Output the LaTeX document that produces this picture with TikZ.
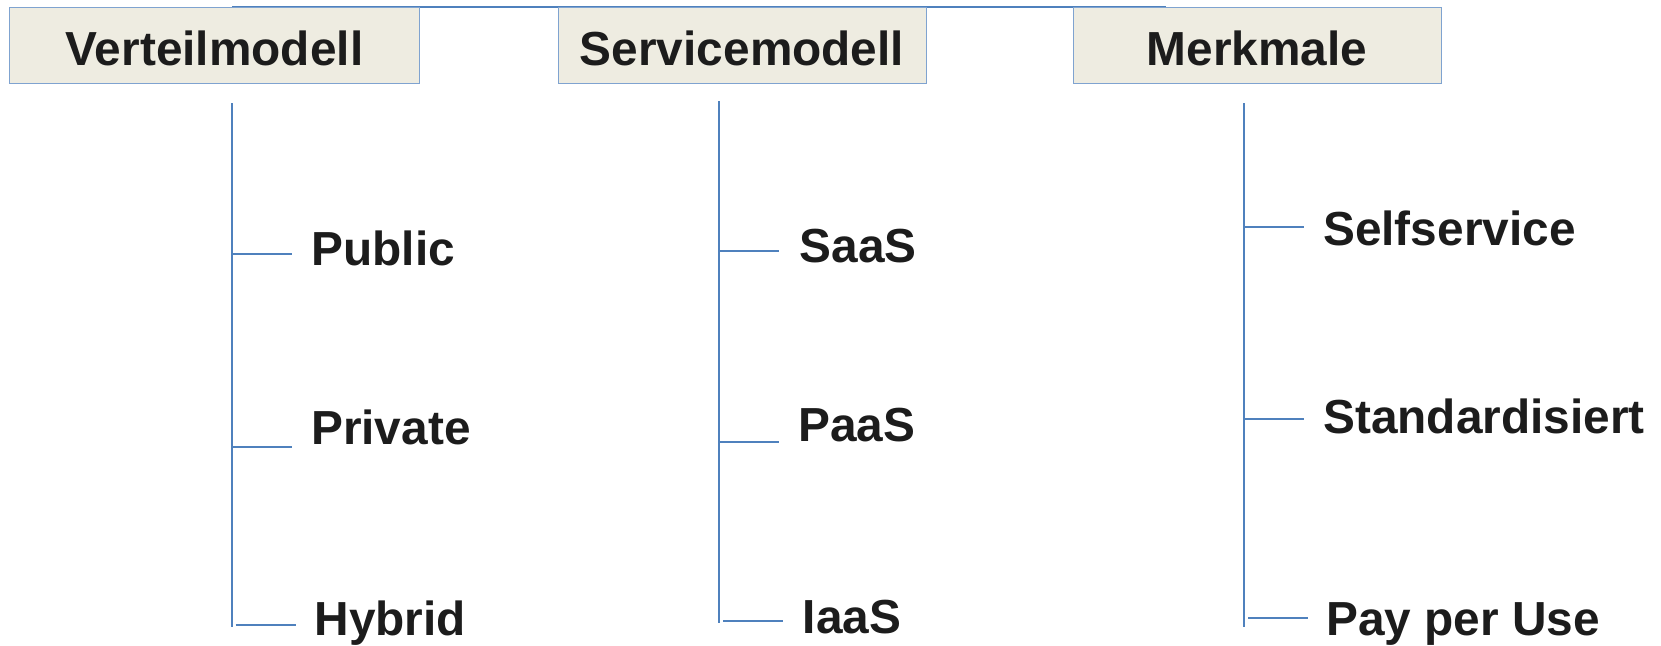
\documentclass[tikz,border=0pt]{standalone}
\usepackage{fontspec}
\setmainfont{Liberation Sans}
\definecolor{lineblue}{HTML}{4F81BD}
\definecolor{boxborder}{HTML}{7FA3D0}
\definecolor{boxfill}{HTML}{EEECE1}
\definecolor{txt}{HTML}{1C1C1C}
\begin{document}
\begin{tikzpicture}[x=1pt,y=-1pt,
  hdr/.style={draw=boxborder, line width=1pt, fill=boxfill, inner sep=0pt,
    minimum height=76.5pt, text height=41pt, text depth=0pt, text=txt,
    font=\fontsize{47.8}{57}\selectfont\bfseries},
  lbl/.style={anchor=base west, inner sep=0pt, text=txt,
    font=\fontsize{47.8}{57}\selectfont\bfseries},
  conn/.style={draw=lineblue, line width=2pt}]
\useasboundingbox (0,0) rectangle (1661,645);

% top line
\coordinate (topL) at (232,6.5);
\coordinate (topR) at (1166,6.5);
\draw[conn] (topL) -- (topR);

% header boxes
\node[hdr, minimum width=410pt] (h1) at (214.5,45.25) {Verteilmodell};
\node[hdr, minimum width=368pt] (h2) at (742,45.25) {Servicemodell};
\node[hdr, minimum width=368pt] (h3) at (1257,45.25) {Merkmale};

% column 1
\coordinate (s1t) at (231.5,103);
\coordinate (s1b) at (231.5,627);
\coordinate (s1a) at (231.5,254);
\coordinate (s1c) at (231.5,446.5);
\coordinate (e1a) at (291.5,254);
\coordinate (e1c) at (291.5,446.5);
\coordinate (b1e) at (235.5,625);
\coordinate (e1e) at (295.5,625);
\draw[conn] (s1t) -- (s1b);
\draw[conn] (s1a) -- (e1a);
\draw[conn] (s1c) -- (e1c);
\draw[conn] (b1e) -- (e1e);
\node[lbl] (public) at (311.5,265) {Public};
\node[lbl] (private) at (311,444) {Private};
\node[lbl] (hybrid) at (314.5,635) {Hybrid};

% column 2
\coordinate (s2t) at (719,101);
\coordinate (s2b) at (719,623);
\coordinate (s2a) at (719,250.7);
\coordinate (s2c) at (719,442.3);
\coordinate (e2a) at (779,250.7);
\coordinate (e2c) at (779,442.3);
\coordinate (b2e) at (723,621.3);
\coordinate (e2e) at (783,621.3);
\draw[conn] (s2t) -- (s2b);
\draw[conn] (s2a) -- (e2a);
\draw[conn] (s2c) -- (e2c);
\draw[conn] (b2e) -- (e2e);
\node[lbl] (saas) at (799.5,262) {SaaS};
\node[lbl] (paas) at (798,441) {PaaS};
\node[lbl] (iaas) at (802.5,633) {IaaS};

% column 3
\coordinate (s3t) at (1244,103);
\coordinate (s3b) at (1244,627);
\coordinate (s3a) at (1244,226.7);
\coordinate (s3c) at (1244,419);
\coordinate (e3a) at (1304,226.7);
\coordinate (e3c) at (1304,419);
\coordinate (b3e) at (1248,618);
\coordinate (e3e) at (1308,618);
\draw[conn] (s3t) -- (s3b);
\draw[conn] (s3a) -- (e3a);
\draw[conn] (s3c) -- (e3c);
\draw[conn] (b3e) -- (e3e);
\node[lbl] (self) at (1323,245) {Selfservice};
\node[lbl] (std) at (1323,433) {Standardisiert};
\node[lbl] (pay) at (1326,635) {Pay per Use};
\end{tikzpicture}
\end{document}
